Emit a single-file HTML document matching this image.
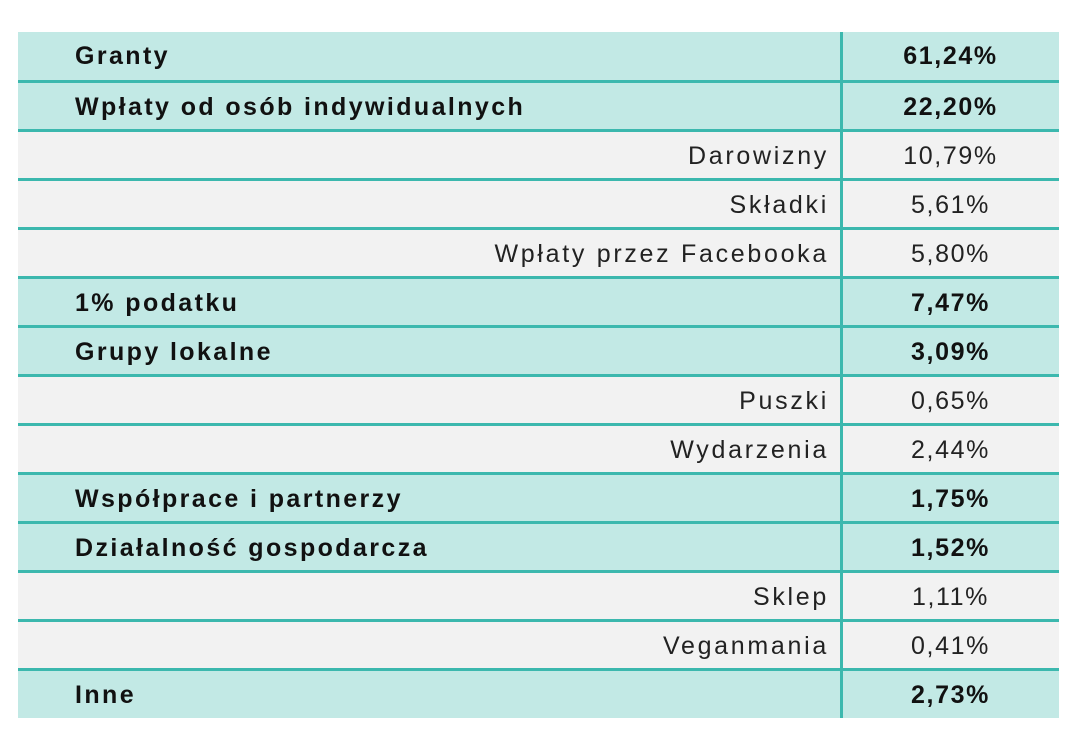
<!DOCTYPE html>
<html><head><style>
body{margin:0;background:#fff;width:1078px;height:750px;position:relative;font-family:"Liberation Sans",sans-serif;}
.r{position:absolute;left:18px;width:1041px;height:46px;}
.t{background:#c2e9e5;font-weight:bold;}
.g{background:#f2f2f2;}
.l{position:absolute;top:0;height:46px;line-height:48px;font-size:25px;color:#111;white-space:nowrap;}
.t .l{left:57px;letter-spacing:2.4px;}
.g .l{right:230px;letter-spacing:2.7px;color:#222;}
.v{position:absolute;left:824px;width:217px;text-align:center;top:0;line-height:48px;font-size:25px;color:#111;letter-spacing:1.6px;}
.g .v{color:#222;}
.h{position:absolute;left:18px;width:1041px;height:3px;background:#3cb8ae;}
.vl{position:absolute;left:840px;top:32px;width:3px;height:686px;background:#3cb8ae;}
</style></head><body>
<div class="r t" style="top:32px;height:48px"><div class="l">Granty</div><div class="v">61,24%</div></div>
<div class="h" style="top:80px"></div>
<div class="r t" style="top:83px"><div class="l">Wpłaty od osób indywidualnych</div><div class="v">22,20%</div></div>
<div class="h" style="top:129px"></div>
<div class="r g" style="top:132px"><div class="l">Darowizny</div><div class="v">10,79%</div></div>
<div class="h" style="top:178px"></div>
<div class="r g" style="top:181px"><div class="l">Składki</div><div class="v">5,61%</div></div>
<div class="h" style="top:227px"></div>
<div class="r g" style="top:230px"><div class="l">Wpłaty przez Facebooka</div><div class="v">5,80%</div></div>
<div class="h" style="top:276px"></div>
<div class="r t" style="top:279px"><div class="l">1% podatku</div><div class="v">7,47%</div></div>
<div class="h" style="top:325px"></div>
<div class="r t" style="top:328px"><div class="l">Grupy lokalne</div><div class="v">3,09%</div></div>
<div class="h" style="top:374px"></div>
<div class="r g" style="top:377px"><div class="l">Puszki</div><div class="v">0,65%</div></div>
<div class="h" style="top:423px"></div>
<div class="r g" style="top:426px"><div class="l">Wydarzenia</div><div class="v">2,44%</div></div>
<div class="h" style="top:472px"></div>
<div class="r t" style="top:475px"><div class="l">Współprace i partnerzy</div><div class="v">1,75%</div></div>
<div class="h" style="top:521px"></div>
<div class="r t" style="top:524px"><div class="l">Działalność gospodarcza</div><div class="v">1,52%</div></div>
<div class="h" style="top:570px"></div>
<div class="r g" style="top:573px"><div class="l">Sklep</div><div class="v">1,11%</div></div>
<div class="h" style="top:619px"></div>
<div class="r g" style="top:622px"><div class="l">Veganmania</div><div class="v">0,41%</div></div>
<div class="h" style="top:668px"></div>
<div class="r t" style="top:671px;height:47px"><div class="l">Inne</div><div class="v">2,73%</div></div>
<div class="vl"></div>
</body></html>
